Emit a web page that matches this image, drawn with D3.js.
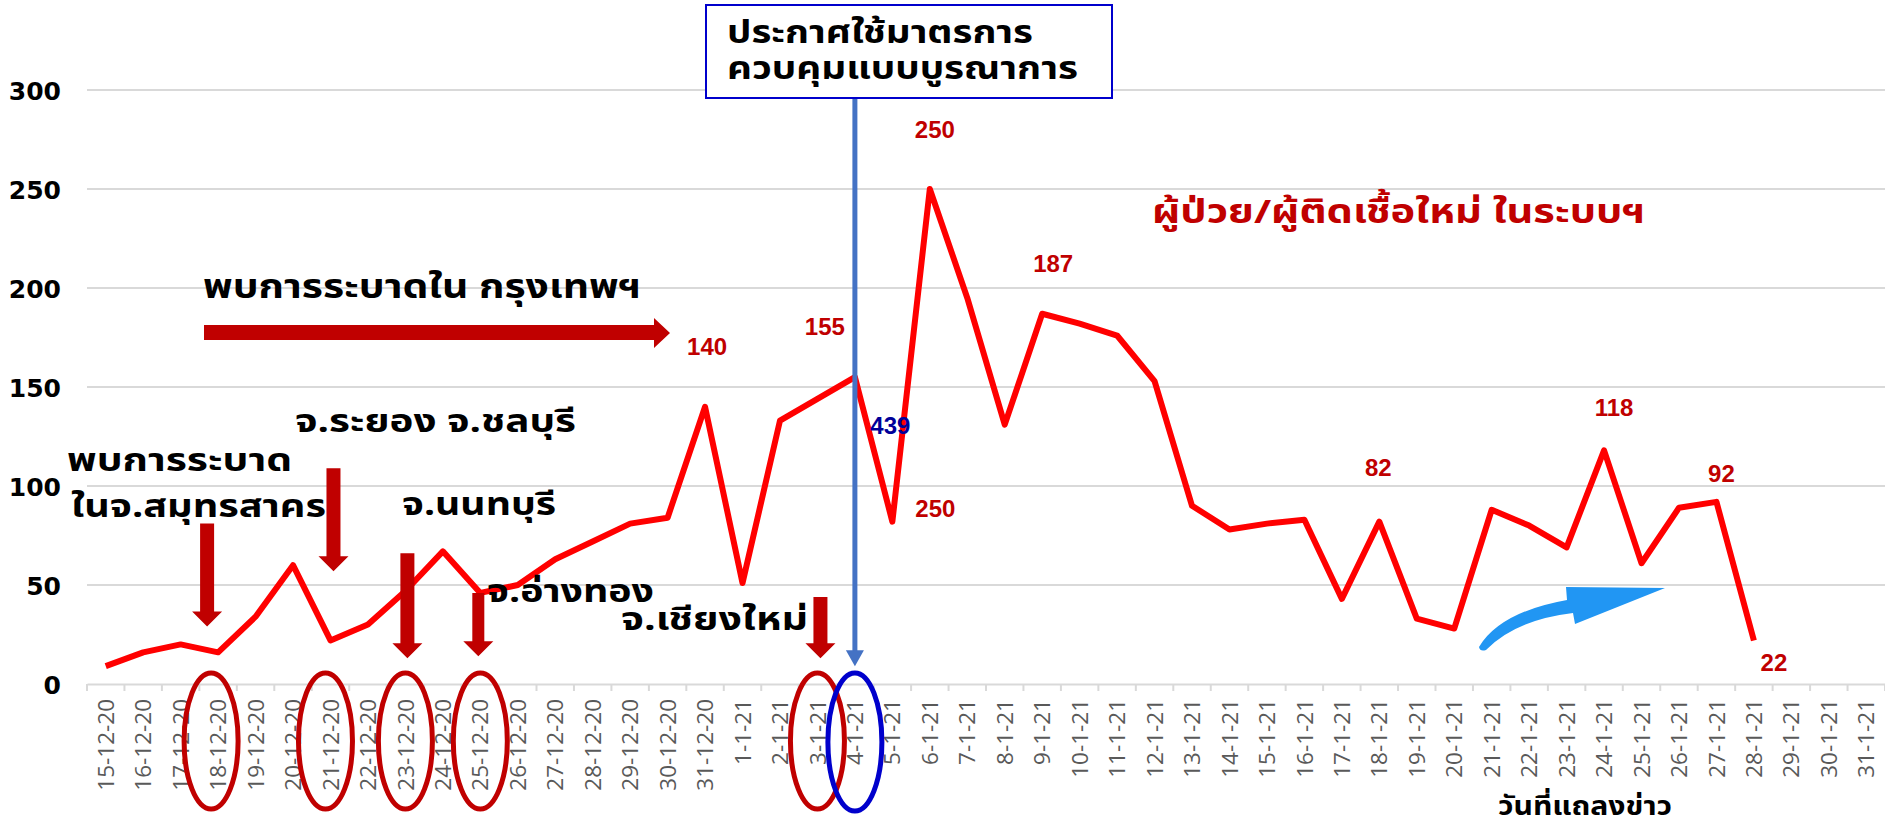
<!DOCTYPE html>
<html>
<head>
<meta charset="utf-8">
<script src="https://cdn.jsdelivr.net/npm/d3@7"></script>
<style>
  html, body { margin: 0; padding: 0; background: #fff; }
  svg { display: block; }
  .thai { font-family: Tahoma, "Noto Sans Thai", "Noto Sans Thai UI", Loma, Garuda, "Noto Sans", sans-serif; font-weight: bold; }
</style>
</head>
<body>
<svg id="chart" width="1885" height="834"></svg>
<script>
const dates = [
  '15-12-20', '16-12-20', '17-12-20', '18-12-20', '19-12-20', '20-12-20', '21-12-20', '22-12-20',
  '23-12-20', '24-12-20', '25-12-20', '26-12-20', '27-12-20', '28-12-20', '29-12-20', '30-12-20',
  '31-12-20', '1-1-21', '2-1-21', '3-1-21', '4-1-21', '5-1-21', '6-1-21', '7-1-21', '8-1-21',
  '9-1-21', '10-1-21', '11-1-21', '12-1-21', '13-1-21', '14-1-21', '15-1-21', '16-1-21', '17-1-21',
  '18-1-21', '19-1-21', '20-1-21', '21-1-21', '22-1-21', '23-1-21', '24-1-21', '25-1-21', '26-1-21',
  '27-1-21', '28-1-21', '29-1-21', '30-1-21', '31-1-21',
];

const cases = [
  9, 16, 20, 16, 34, 60, 22, 30, 47, 67, 46, 50, 63, 72, 81, 84,
  140, 51, 133, 144, 155, 82, 250, 195, 131, 187, 182, 176, 153, 90, 78, 81, 83, 43,
  82, 33, 28, 88, 80, 69, 118, 61, 89, 92, 22, null, null, null,
];

const yTicks = [0, 50, 100, 150, 200, 250, 300];

const labelDates = ['31-12-20', '4-1-21', '6-1-21', '9-1-21', '5-1-21', '5-1-21', '18-1-21', '24-1-21', '27-1-21', '28-1-21'];
const labelTexts = ['140', '155', '250', '187', '439', '250', '82', '118', '92', '22'];

const redMarkDates = ['18-12-20', '21-12-20', '23-12-20', '25-12-20', '3-1-21'];
const measureDate = '4-1-21';

const svg = d3.select('#chart');
const W = 1885;

const x = d3.scaleBand().domain(dates).range([87, W]);
const y = d3.scaleLinear().domain([0, 300]).range([684, 90]);
const cx = (d) => x(d) + x.bandwidth() / 2;

const RED = '#C00000';

// grid
svg.append('g')
  .selectAll('line')
  .data(yTicks.slice(1))
  .join('line')
  .attr('x1', 87).attr('x2', W)
  .attr('y1', (d) => y(d)).attr('y2', (d) => y(d))
  .attr('stroke', '#D9D9D9').attr('stroke-width', 2);

// y axis labels
const yAxis = svg.append('g')
  .attr('transform', 'translate(61,0)')
  .call(d3.axisLeft(y).tickValues(yTicks).tickSize(0).tickPadding(0));
yAxis.select('.domain').remove();
yAxis.selectAll('text')
  .attr('font-family', '"DejaVu Sans", sans-serif')
  .attr('font-weight', 'bold')
  .attr('font-size', 25)
  .attr('fill', '#000')
  .attr('dy', '0.36em');

// x axis
const xAxis = svg.append('g')
  .attr('transform', `translate(0,${y(0)})`)
  .call(d3.axisBottom(x).tickSize(0));
xAxis.select('.domain').attr('stroke', '#D9D9D9').attr('stroke-width', 2);
xAxis.selectAll('.tick text')
  .attr('font-family', '"Open Sans", sans-serif')
  .attr('font-size', 22.5)
  .attr('fill', '#595959')
  .attr('text-anchor', 'end')
  .attr('transform', 'rotate(-90)')
  .attr('x', -15)
  .attr('y', 0)
  .attr('dy', '0.36em');

svg.append('g')
  .selectAll('line')
  .data(dates.concat(['end']))
  .join('line')
  .attr('x1', (d, i) => x.range()[0] + i * x.step())
  .attr('x2', (d, i) => x.range()[0] + i * x.step())
  .attr('y1', y(0)).attr('y2', y(0) + 7)
  .attr('stroke', '#D9D9D9').attr('stroke-width', 2);

// main line
const line = d3.line()
  .defined((d) => d != null)
  .x((d, i) => cx(dates[i]))
  .y((d) => y(d));

svg.append('path')
  .datum(cases)
  .attr('d', line)
  .attr('fill', 'none')
  .attr('stroke', '#FF0000')
  .attr('stroke-width', 6)
  .attr('stroke-linejoin', 'round');

// data labels
const labelOffsets = [[2, -60], [-30, -51], [5, -60], [11, -50], [-2, -96], [43, -13], [-1, -54], [10, -43], [5, -28], [20, 22]];
svg.append('g')
  .selectAll('text')
  .data(labelTexts)
  .join('text')
  .attr('x', (d, i) => cx(labelDates[i]) + labelOffsets[i][0])
  .attr('y', (d, i) => y(cases[dates.indexOf(labelDates[i])]) + labelOffsets[i][1])
  .attr('dy', '0.36em')
  .attr('text-anchor', 'middle')
  .attr('font-family', '"Liberation Sans", Arial, sans-serif')
  .attr('font-weight', 'bold')
  .attr('font-size', 24)
  .attr('fill', (d, i) => (i === 4 ? '#000099' : RED))
  .text((d) => d);

// ellipses
const ellShift = [-7, -5, 0, 0, 0];
svg.append('g')
  .selectAll('ellipse')
  .data(redMarkDates)
  .join('ellipse')
  .attr('cx', (d, i) => cx(d) + ellShift[i])
  .attr('cy', y(0) + 57)
  .attr('rx', 27).attr('ry', 68)
  .attr('fill', 'none')
  .attr('stroke', RED).attr('stroke-width', 5);

svg.append('ellipse')
  .attr('cx', cx(measureDate))
  .attr('cy', y(0) + 58)
  .attr('rx', 27).attr('ry', 69)
  .attr('fill', 'none')
  .attr('stroke', '#0000CC').attr('stroke-width', 5);

// red down arrows
const arrowTop = [81, 109, 66, 46, 44];
const arrowTip = [29, 57, 13, 14, 13];
const arrowShift = [-11, 3, 2, -2, 3];
function downArrow(g, xc, y0, y1, shaft, head, headH, color) {
  const s = shaft / 2;
  const h = head / 2;
  g.append('path')
    .attr('d', `M${xc - s},${y0}L${xc + s},${y0}L${xc + s},${y1 - headH}L${xc + h},${y1 - headH}L${xc},${y1}L${xc - h},${y1 - headH}L${xc - s},${y1 - headH}Z`)
    .attr('fill', color);
}
const arrows = svg.append('g');
redMarkDates.forEach((d, i) => {
  downArrow(arrows, cx(d) + arrowShift[i], y(arrowTop[i]), y(arrowTip[i]), i === 3 ? 12 : 14, 30, 15, RED);
});

// announcement line
const mx = cx(measureDate);
svg.append('line')
  .attr('x1', mx).attr('x2', mx)
  .attr('y1', 98).attr('y2', y(16))
  .attr('stroke', '#4472C4').attr('stroke-width', 5);
svg.append('path')
  .attr('d', `M${mx - 9},${y(16) - 2}L${mx + 9},${y(16) - 2}L${mx},${y(15) + 12}Z`)
  .attr('fill', '#4472C4');

svg.append('rect')
  .attr('x', 706).attr('y', 5)
  .attr('width', 406).attr('height', 93)
  .attr('fill', '#fff')
  .attr('stroke', '#0000CC').attr('stroke-width', 2);

const boxLines = [
  { t: 'ประกาศใช้มาตรการ', y: 43, w: 306 },
  { t: 'ควบคุมแบบบูรณาการ', y: 79, w: 351 },
];
svg.append('g')
  .selectAll('text')
  .data(boxLines)
  .join('text')
  .attr('class', 'thai')
  .attr('x', 727)
  .attr('y', (d) => d.y)
  .attr('font-size', 32)
  .attr('fill', '#000')
  .attr('textLength', (d) => d.w)
  .attr('lengthAdjust', 'spacingAndGlyphs')
  .text((d) => d.t);

// Bangkok arrow
svg.append('path')
  .attr('d', `M204,325L654,325L654,318L670,333L654,348L654,340L204,340Z`)
  .attr('fill', RED);

// text notes
const notes = [
  { t: 'พบการระบาดใน กรุงเทพฯ', x: 203, y: 298, w: 438, c: '#000', s: 33 },
  { t: 'ผู้ป่วย/ผู้ติดเชื้อใหม่ ในระบบฯ', x: 1152, y: 223, w: 493, c: RED, s: 33 },
  { t: 'จ.ระยอง จ.ชลบุรี', x: 295, y: 432, w: 281, c: '#000', s: 32 },
  { t: 'พบการระบาด', x: 67, y: 471, w: 225, c: '#000', s: 32 },
  { t: 'ในจ.สมุทรสาคร', x: 71, y: 517, w: 255, c: '#000', s: 32 },
  { t: 'จ.นนทบุรี', x: 402, y: 515, w: 154, c: '#000', s: 32 },
  { t: 'จ.อ่างทอง', x: 487, y: 602, w: 167, c: '#000', s: 32 },
  { t: 'จ.เชียงใหม่', x: 621, y: 630, w: 187, c: '#000', s: 32 },
  { t: 'วันที่แถลงข่าว', x: 1498, y: 815, w: 174, c: '#000', s: 26 },
];
svg.append('g')
  .selectAll('text')
  .data(notes)
  .join('text')
  .attr('class', 'thai')
  .attr('x', (d) => d.x)
  .attr('y', (d) => d.y)
  .attr('font-size', (d) => d.s)
  .attr('fill', (d) => d.c)
  .attr('textLength', (d) => d.w)
  .attr('lengthAdjust', 'spacingAndGlyphs')
  .text((d) => d.t);

// blue trend arrow
svg.append('path')
  .attr('d', 'M1479,647Q1500,612 1567,600L1566,587L1665,588L1575,624L1573,613Q1515,620 1486,650Q1480,652 1479,647Z')
  .attr('fill', '#2196F3');
</script>
</body>
</html>
